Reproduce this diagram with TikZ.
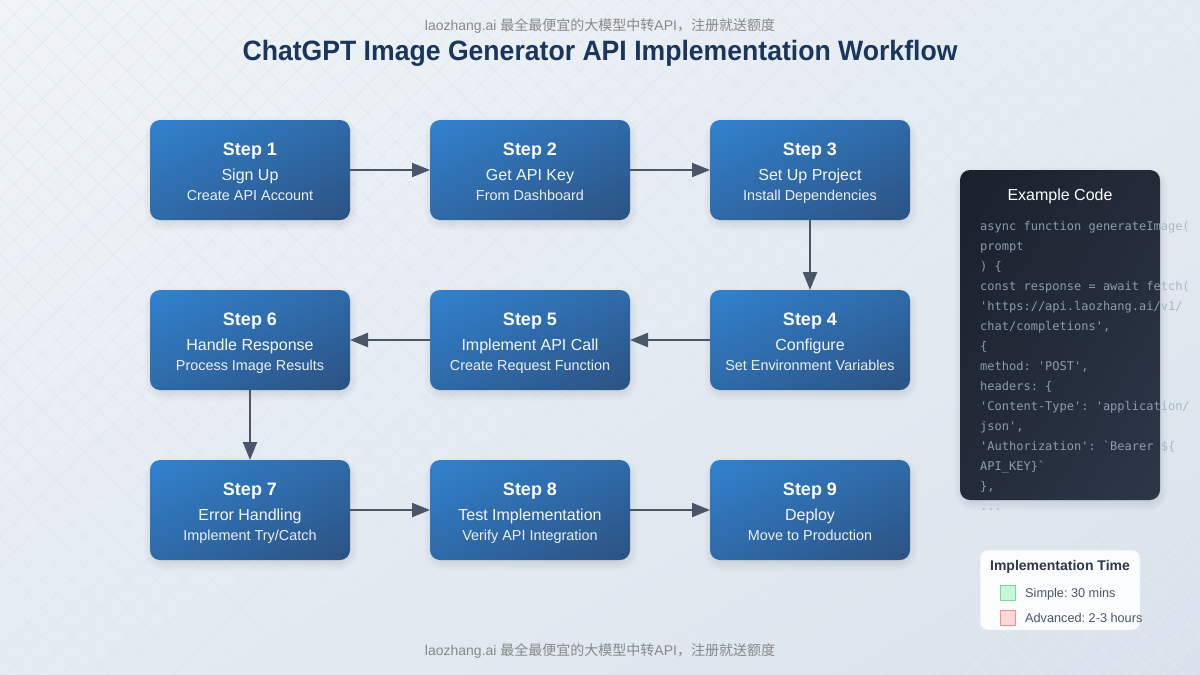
\documentclass[tikz,border=0pt]{standalone}
\usepackage{graphicx}
\usepackage{fontspec}
\setmainfont{Liberation Sans}
\newfontfamily\cjkfont{Noto Sans CJK SC}
\newfontfamily\codefont{DejaVu Sans Mono}
\usetikzlibrary{arrows.meta}
\definecolor{bgA}{HTML}{F0F4F8}
\definecolor{bgB}{HTML}{D9E2EC}
\definecolor{gridc}{HTML}{E2E8F0}
\definecolor{stepA}{HTML}{3182CE}
\definecolor{stepB}{HTML}{2C5282}
\definecolor{codeA}{HTML}{1A202C}
\definecolor{codeB}{HTML}{2D3748}
\definecolor{arrowc}{HTML}{4A5568}
\definecolor{titlec}{HTML}{1A365D}
\definecolor{codetext}{HTML}{A0AEC0}
\definecolor{wm}{HTML}{888888}
\definecolor{swgreen}{RGB}{198,246,213}
\definecolor{swgreenline}{RGB}{130,210,160}
\definecolor{swred}{RGB}{254,215,215}
\definecolor{swredline}{RGB}{246,140,140}
\tikzset{
  x=1pt,y=-1pt,
  stepbox/.style={rectangle,minimum width=200pt,minimum height=100pt,inner sep=0pt,outer sep=0pt},
  steptitle/.style={anchor=base,text=white,font=\fontsize{18}{20}\selectfont\bfseries,inner sep=0pt},
  stepmain/.style={anchor=base,text=white,font=\fontsize{16}{18}\selectfont,inner sep=0pt,text opacity=.95},
  stepsub/.style={anchor=base,text=white,font=\fontsize{14.4}{16}\selectfont,inner sep=0pt,text opacity=.9},
  flow/.style={draw=arrowc,line width=2.2pt,-{Triangle[length=18pt,width=14pt]}},
  codeline/.style={anchor=base west,text=codetext,text opacity=.85,font=\fontsize{12}{14}\codefont,inner sep=0pt},
  watermark/.style={anchor=base,text=wm,font=\fontsize{14}{16}\selectfont,inner sep=0pt},
  legendtext/.style={anchor=base west,text=arrowc,font=\fontsize{12.7}{14}\selectfont,inner sep=0pt},
  swatch/.style={rectangle,minimum size=15pt,inner sep=0pt,line width=1pt},
}
% gradient running corner to corner of a box, as an SVG bounding-box gradient does
\newcommand{\gradbox}[9]{% x0 y0 x1 y1 radius colorA colorB theta halfL
  \begin{scope}
    \clip[rounded corners=#5pt] (#1,#2) rectangle (#3,#4);
    \shade[top color=#6,bottom color=#7,transform canvas={shift={({(#1+#3)/2},{(#2+#4)/2})},rotate=#8}]
      (-800,-#9) rectangle (800,#9);
  \end{scope}}
\newcommand{\softshadow}[6]{% x y w h radius strength
  \foreach \e in {7,6,...,-3}{
    \fill[black,fill opacity=#6,rounded corners={#5pt+\e pt+3pt}]
      ({#1-\e},{#2-\e}) rectangle ({#1+#3+\e},{#2+#4+\e});
  }}
\newcommand{\stepnode}[6]{% name cx cy title main sub
  \softshadow{#2-100+1}{#3-50+4}{200}{100}{10}{.009}
  \gradbox{#2-100}{#3-50}{#2+100}{#3+50}{10}{stepA}{stepB}{26.565}{89.44}
  \node[stepbox] (#1) at (#2,#3) {};
  \node[steptitle] (#1t) at (#2,#3-15) {#4};
  \node[stepmain] (#1m) at (#2,#3+10) {#5};
  \node[stepsub] (#1s) at (#2,#3+30) {#6};
}
\begin{document}
\frenchspacing
\begin{tikzpicture}
\useasboundingbox (0,0) rectangle (1200,675);
\gradbox{0}{0}{1200}{675}{0}{bgA}{bgB}{29.358}{588.3}
\begin{scope}
\clip (0,0) rectangle (1200,675);
\foreach \k in {1,...,67}{
  \draw[gridc,line width=1pt,opacity=.7] ({28.284*\k},0) -- (0,{28.284*\k});
}
\foreach \k in {-24,...,43}{
  \draw[gridc,line width=1pt,opacity=.7] ({28.284*\k},0) -- ({28.284*\k+700},700);
}
\end{scope}

\node[watermark] (wmtop) at (600,30) {laozhang.ai {\cjkfont 最全最便宜的大模型中转}API{\cjkfont ，注册就送额度}};
\node[anchor=base,text=titlec,font=\fontsize{28}{32}\selectfont\bfseries,inner sep=0pt] (title) at (600,60) {\scalebox{.95}[1]{ChatGPT Image Generator API Implementation Workflow}};
\node[watermark] (wmbot) at (600,655) {laozhang.ai {\cjkfont 最全最便宜的大模型中转}API{\cjkfont ，注册就送额度}};

\stepnode{s1}{250}{170}{Step 1}{Sign Up}{Create API Account}
\stepnode{s2}{530}{170}{Step 2}{Get API Key}{From Dashboard}
\stepnode{s3}{810}{170}{Step 3}{Set Up Project}{Install Dependencies}
\stepnode{s4}{810}{340}{Step 4}{Configure}{Set Environment Variables}
\stepnode{s5}{530}{340}{Step 5}{Implement API Call}{Create Request Function}
\stepnode{s6}{250}{340}{Step 6}{Handle Response}{Process Image Results}
\stepnode{s7}{250}{510}{Step 7}{Error Handling}{Implement Try/Catch}
\stepnode{s8}{530}{510}{Step 8}{Test Implementation}{Verify API Integration}
\stepnode{s9}{810}{510}{Step 9}{Deploy}{Move to Production}

\draw[flow] (s1) -- (s2);
\draw[flow] (s2) -- (s3);
\draw[flow] (s3) -- (s4);
\draw[flow] (s4) -- (s5);
\draw[flow] (s5) -- (s6);
\draw[flow] (s6) -- (s7);
\draw[flow] (s7) -- (s8);
\draw[flow] (s8) -- (s9);

\softshadow{961}{174}{200}{330}{10}{.009}
\gradbox{960}{170}{1160}{500}{10}{codeA}{codeB}{58.78}{171.05}
\node[rectangle,minimum width=200pt,minimum height=330pt,inner sep=0pt,outer sep=0pt] (code) at (1060,335) {};
\node[anchor=base,text=white,font=\fontsize{16}{18}\selectfont,inner sep=0pt] (codetitle) at (1060,200) {Example Code};
\node[codeline] (c1) at (980,230) {async function generateImage(};
\node[codeline] (c2) at (980,250) {prompt};
\node[codeline] (c3) at (980,270) {) \{};
\node[codeline] (c4) at (980,290) {const response = await fetch(};
\node[codeline] (c5) at (980,310) {'https://api.laozhang.ai/v1/};
\node[codeline] (c6) at (980,330) {chat/completions',};
\node[codeline] (c7) at (980,350) {\{};
\node[codeline] (c8) at (980,370) {method: 'POST',};
\node[codeline] (c9) at (980,390) {headers: \{};
\node[codeline] (c10) at (980,410) {'Content-Type': 'application/};
\node[codeline] (c11) at (980,430) {json',};
\node[codeline] (c12) at (980,450) {'Authorization': `Bearer \$\{};
\node[codeline] (c13) at (980,470) {API\_KEY\}`};
\node[codeline] (c14) at (980,490) {\},};
\node[codeline] (c15) at (980,510) {...};

\node[rectangle,rounded corners=8pt,minimum width=160pt,minimum height=80pt,inner sep=0pt,outer sep=0pt,
  fill=white,fill opacity=.9,draw=gridc,line width=.5pt] (legend) at (1060,590) {};
\node[anchor=base,text=codeB,font=\fontsize{14}{16}\selectfont\bfseries,inner sep=0pt] (legendtitle) at (1060,570) {Implementation Time};
\node[swatch,fill=swgreen,draw=swgreenline] (sw1) at (1007.5,592.5) {};
\node[legendtext] (lg1) at (1025,597) {Simple: 30 mins};
\node[swatch,fill=swred,draw=swredline] (sw2) at (1007.5,617.5) {};
\node[legendtext] (lg2) at (1025,622) {Advanced: 2-3 hours};
\end{tikzpicture}
\end{document}
